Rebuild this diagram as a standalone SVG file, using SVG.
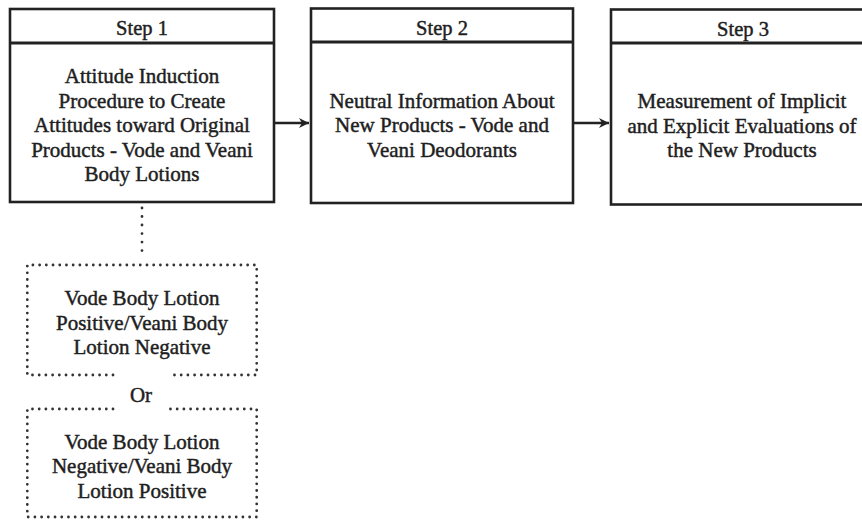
<svg xmlns="http://www.w3.org/2000/svg" width="862" height="520" viewBox="0 0 862 520">
<defs>
<style>
.box{fill:#fff;stroke:#222;stroke-width:2.6}
.hdr{stroke:#222;stroke-width:3}
.t{font-family:"Liberation Serif","Times New Roman",serif;font-size:21px;fill:#1e1e1e;stroke:#1e1e1e;stroke-width:0.45;text-anchor:middle}
.h{font-family:"Liberation Serif","Times New Roman",serif;font-size:20.5px;fill:#1e1e1e;stroke:#1e1e1e;stroke-width:0.45;text-anchor:middle}
.dot{fill:none;stroke:#333;stroke-width:2.8;stroke-linecap:round;stroke-dasharray:0.01 6.7}
.vdot{fill:none;stroke:#333;stroke-width:2.8;stroke-linecap:round;stroke-dasharray:0.01 8.5}
.conn{fill:none;stroke:#222;stroke-width:2.6}
</style>
<marker id="arr" markerWidth="12" markerHeight="12" refX="11" refY="6" orient="auto" markerUnits="userSpaceOnUse">
<path d="M1,1 L11,6 L1,11 L4,6 Z" fill="#222"/>
</marker>
</defs>
<rect width="862" height="520" fill="#fff"/>
<g id="connectors">
<line class="conn" x1="274" y1="123" x2="309" y2="123" marker-end="url(#arr)"/>
<line class="conn" x1="573" y1="123" x2="609" y2="123" marker-end="url(#arr)"/>
<line class="vdot" x1="142" y1="208" x2="142" y2="259"/>
</g>
<g id="step1">
<rect class="box" x="10" y="9" width="264" height="193"/>
<line class="hdr" x1="10" y1="43" x2="274" y2="43"/>
<text class="h" x="142" y="35">Step 1</text>
<text class="t" x="142" y="83">Attitude Induction</text>
<text class="t" x="142" y="107.5">Procedure to Create</text>
<text class="t" x="142" y="132">Attitudes toward Original</text>
<text class="t" x="142" y="156.5">Products - Vode and Veani</text>
<text class="t" x="142" y="181">Body Lotions</text>
</g>
<g id="step2">
<rect class="box" x="311" y="8.5" width="262" height="194.5"/>
<line class="hdr" x1="311" y1="42" x2="573" y2="42"/>
<text class="h" x="442" y="34.5">Step 2</text>
<text class="t" x="442" y="108">Neutral Information About</text>
<text class="t" x="442" y="132">New Products - Vode and</text>
<text class="t" x="442" y="156.5">Veani Deodorants</text>
</g>
<g id="step3">
<rect class="box" x="611" y="9.5" width="264" height="195"/>
<line class="hdr" x1="611" y1="43" x2="875" y2="43"/>
<text class="h" x="743" y="35.5">Step 3</text>
<text class="t" x="742" y="108">Measurement of Implicit</text>
<text class="t" x="742" y="132.5">and Explicit Evaluations of</text>
<text class="t" x="742" y="157">the New Products</text>
</g>
<g id="option1">
<path class="dot" d="M113,375 L27.3,375 L27.3,265 L256.7,265 L256.7,375 L168,375"/>
<text class="t" x="142" y="305">Vode Body Lotion</text>
<text class="t" x="142" y="329.5">Positive/Veani Body</text>
<text class="t" x="142" y="354">Lotion Negative</text>
</g>
<g id="or">
<text class="t" x="141" y="402">Or</text>
</g>
<g id="option2">
<path class="dot" d="M113,409 L27.3,409 L27.3,517 L256.7,517 L256.7,409 L168,409"/>
<text class="t" x="142" y="449">Vode Body Lotion</text>
<text class="t" x="142" y="473">Negative/Veani Body</text>
<text class="t" x="142" y="497.5">Lotion Positive</text>
</g>
</svg>
